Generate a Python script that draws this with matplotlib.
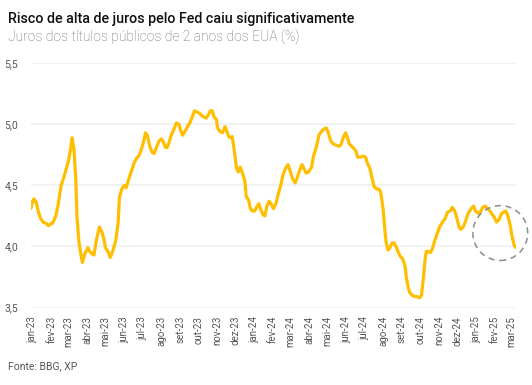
import pandas as pd
import matplotlib
matplotlib.use("Agg")
import matplotlib.pyplot as plt

plt.rcParams['font.family'] = ['Roboto', 'DejaVu Sans']

# US 2y yield
dates = ["2022-12-29", "2023-01-01", "2023-01-03", "2023-01-07", "2023-01-10", "2023-01-14",
         "2023-01-18", "2023-01-23", "2023-01-27", "2023-02-01", "2023-02-03", "2023-02-08",
         "2023-02-12", "2023-02-15", "2023-02-17", "2023-02-21", "2023-02-25", "2023-03-01",
         "2023-03-04", "2023-03-07", "2023-03-10", "2023-03-13", "2023-03-15", "2023-03-18",
         "2023-03-21", "2023-03-24", "2023-03-28", "2023-03-30", "2023-04-02", "2023-04-05",
         "2023-04-09", "2023-04-12", "2023-04-16", "2023-04-21", "2023-04-25", "2023-04-28",
         "2023-05-01", "2023-05-05", "2023-05-09", "2023-05-13", "2023-05-18", "2023-05-22",
         "2023-05-24", "2023-05-28", "2023-06-01", "2023-06-04", "2023-06-09", "2023-06-13",
         "2023-06-17", "2023-06-21", "2023-06-25", "2023-06-29", "2023-07-03", "2023-07-06",
         "2023-07-09", "2023-07-13", "2023-07-17", "2023-07-20", "2023-07-24", "2023-07-28",
         "2023-08-01", "2023-08-04", "2023-08-08", "2023-08-11", "2023-08-15", "2023-08-19",
         "2023-08-22", "2023-08-26", "2023-08-30", "2023-09-02", "2023-09-05", "2023-09-09",
         "2023-09-13", "2023-09-17", "2023-09-21", "2023-09-25", "2023-09-29", "2023-10-03",
         "2023-10-07", "2023-10-10", "2023-10-14", "2023-10-18", "2023-10-21", "2023-10-24",
         "2023-10-27", "2023-10-31", "2023-11-02", "2023-11-06", "2023-11-10", "2023-11-14",
         "2023-11-16", "2023-11-20", "2023-11-23", "2023-11-26", "2023-11-29", "2023-12-03",
         "2023-12-06", "2023-12-09", "2023-12-13", "2023-12-17", "2023-12-19", "2023-12-23",
         "2023-12-26", "2023-12-29", "2024-01-02", "2024-01-05", "2024-01-09", "2024-01-12",
         "2024-01-16", "2024-01-19", "2024-01-22", "2024-01-26", "2024-01-29", "2024-02-02",
         "2024-02-06", "2024-02-10", "2024-02-14", "2024-02-18", "2024-02-22", "2024-02-26",
         "2024-03-01", "2024-03-05", "2024-03-09", "2024-03-12", "2024-03-16", "2024-03-20",
         "2024-03-23", "2024-03-27", "2024-03-31", "2024-04-05", "2024-04-08", "2024-04-13",
         "2024-04-17", "2024-04-21", "2024-04-25", "2024-04-29", "2024-05-02", "2024-05-06",
         "2024-05-10", "2024-05-15", "2024-05-20", "2024-05-23", "2024-05-27", "2024-05-31",
         "2024-06-03", "2024-06-06", "2024-06-10", "2024-06-14", "2024-06-17", "2024-06-20",
         "2024-06-24", "2024-06-29", "2024-07-03", "2024-07-06", "2024-07-10", "2024-07-14",
         "2024-07-17", "2024-07-21", "2024-07-25", "2024-07-28", "2024-08-01", "2024-08-04",
         "2024-08-06", "2024-08-09", "2024-08-12", "2024-08-16", "2024-08-19", "2024-08-23",
         "2024-08-26", "2024-08-29", "2024-09-02", "2024-09-06", "2024-09-08", "2024-09-11",
         "2024-09-14", "2024-09-18", "2024-09-22", "2024-09-26", "2024-09-30", "2024-10-03",
         "2024-10-06", "2024-10-09", "2024-10-11", "2024-10-14", "2024-10-18", "2024-10-21",
         "2024-10-25", "2024-10-30", "2024-11-02", "2024-11-07", "2024-11-11", "2024-11-15",
         "2024-11-19", "2024-11-23", "2024-11-27", "2024-11-30", "2024-12-04", "2024-12-07",
         "2024-12-11", "2024-12-15", "2024-12-19", "2024-12-24", "2024-12-28", "2024-12-31",
         "2025-01-05", "2025-01-09", "2025-01-12", "2025-01-16", "2025-01-20", "2025-01-24",
         "2025-01-28", "2025-01-31", "2025-02-04", "2025-02-08", "2025-02-11", "2025-02-15",
         "2025-02-19", "2025-02-22", "2025-02-26", "2025-03-02", "2025-03-05", "2025-03-08"]

yields = [4.31, 4.37, 4.39, 4.36, 4.29, 4.23,
          4.20, 4.19, 4.17, 4.19, 4.19, 4.25,
          4.34, 4.44, 4.50, 4.56, 4.63, 4.70,
          4.78, 4.89, 4.80, 4.56, 4.25, 4.05,
          3.95, 3.87, 3.94, 3.96, 3.99, 3.96,
          3.94, 3.93, 4.05, 4.16, 4.12, 4.07,
          3.99, 3.96, 3.91, 3.96, 4.05, 4.20,
          4.40, 4.47, 4.50, 4.48, 4.56, 4.62,
          4.68, 4.72, 4.74, 4.79, 4.86, 4.93,
          4.91, 4.82, 4.77, 4.76, 4.81, 4.86,
          4.88, 4.86, 4.81, 4.81, 4.87, 4.93,
          4.96, 5.01, 5.00, 4.95, 4.91, 4.94,
          4.98, 5.01, 5.06, 5.11, 5.10, 5.09,
          5.07, 5.06, 5.05, 5.08, 5.11, 5.11,
          5.06, 5.04, 4.97, 4.94, 4.93, 4.98,
          4.96, 4.90, 4.89, 4.90, 4.80, 4.64,
          4.61, 4.65, 4.60, 4.53, 4.41, 4.38,
          4.31, 4.29, 4.29, 4.32, 4.35, 4.30,
          4.26, 4.25, 4.33, 4.37, 4.35, 4.31,
          4.35, 4.43, 4.50, 4.59, 4.64, 4.67,
          4.61, 4.55, 4.52, 4.56, 4.62, 4.67,
          4.64, 4.60, 4.61, 4.65, 4.74, 4.82,
          4.91, 4.94, 4.96, 4.97, 4.94, 4.87,
          4.84, 4.83, 4.82, 4.83, 4.89, 4.93,
          4.89, 4.84, 4.82, 4.80, 4.78, 4.73,
          4.73, 4.74, 4.73, 4.68, 4.64, 4.55,
          4.49, 4.47, 4.47, 4.44, 4.30, 4.12,
          4.03, 3.97, 3.99, 4.03, 4.03, 3.99,
          3.95, 3.92, 3.90, 3.84, 3.75, 3.67,
          3.62, 3.60, 3.59, 3.59, 3.58, 3.60,
          3.73, 3.89, 3.96, 3.96, 3.95, 3.98,
          4.05, 4.12, 4.16, 4.20, 4.23, 4.28,
          4.29, 4.32, 4.29, 4.24, 4.16, 4.14,
          4.16, 4.21, 4.27, 4.31, 4.33, 4.29,
          4.27, 4.29, 4.32, 4.33, 4.31, 4.29,
          4.26, 4.24, 4.20, 4.22, 4.26, 4.28,
          4.29, 4.26, 4.18, 4.07, 4.01, 3.99]

month_labels = ["jan-23", "fev-23", "mar-23", "abr-23", "mai-23", "jun-23", "jul-23",
                "ago-23", "set-23", "out-23", "nov-23", "dez-23", "jan-24", "fev-24",
                "mar-24", "abr-24", "mai-24", "jun-24", "jul-24", "ago-24", "set-24",
                "out-24", "nov-24", "dez-24", "jan-25", "fev-25", "mar-25"]
y_ticks = [3.5, 4.0, 4.5, 5.0, 5.5]

x = pd.to_datetime(dates)
months = pd.date_range("2023-01-01", periods=len(month_labels), freq="MS")

fig = plt.figure(figsize=(5.32, 3.85), dpi=100)
ax = fig.add_axes([0.058, 0.201, 0.912, 0.635])

ax.plot(x, yields, color="#FFBF00", lw=2.3, solid_joinstyle="round", solid_capstyle="round", zorder=3)

# dashed circle highlighting the last weeks
ax.scatter([pd.Timestamp("2025-02-10")], [4.11], s=1560, facecolors="none",
           edgecolors="#8c8c8c", linestyles=(0, (4, 3)), linewidths=1.1, zorder=4,
           clip_on=False)

ax.set_xlim(x[0], x[-1])
ax.set_ylim(3.5, 5.5)
ax.set_yticks(y_ticks)
ax.set_yticklabels([f"{v:.1f}".replace(".", ",") for v in y_ticks])
ax.set_xticks(months)
ax.set_xticklabels(month_labels, rotation=90)

ax.grid(axis="y", color="#f2f2f2", lw=1.5)
ax.set_axisbelow(True)
for s in ax.spines.values():
    s.set_visible(False)
ax.tick_params(axis="y", length=0, pad=9, labelsize=7.5, labelcolor="#555555")
ax.tick_params(axis="x", length=0, pad=6, labelsize=7, labelcolor="#555555")

fig.text(0.015, 0.968, "Risco de alta de juros pelo Fed caiu significativamente",
         fontsize=10.3, fontweight="medium", color="#111111", va="top")
fig.text(0.015, 0.922, "Juros dos títulos públicos de 2 anos dos EUA (%)",
         fontsize=10, fontweight="light", color="#6a6a6a", va="top")
fig.text(0.015, 0.035, "Fonte: BBG, XP", fontsize=7.5, color="#555555", va="bottom")

fig.savefig("out.png", dpi=100)
